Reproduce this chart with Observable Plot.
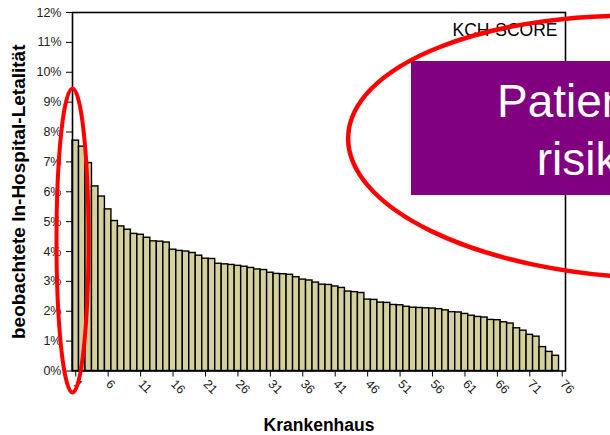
<!DOCTYPE html>
<html>
<head>
<meta charset="utf-8">
<script src="https://cdn.jsdelivr.net/npm/d3@7"></script>
<script src="https://cdn.jsdelivr.net/npm/@observablehq/plot@0.6"></script>
<style>
  body { margin: 0; background: #fff; }
  svg { font-family: "Liberation Sans", Arial, sans-serif; }
</style>
</head>
<body>
<div id="chart"></div>
<script>
// Observed in-hospital mortality (%) per hospital, sorted descending (hospital 76 has no bar)
const rates = [7.71, 7.51, 6.96, 6.18, 5.84, 5.41, 5.02, 4.84, 4.73, 4.59,
  4.56, 4.46, 4.34, 4.33, 4.30, 4.06, 4.02, 4.00, 3.95, 3.86,
  3.76, 3.75, 3.59, 3.57, 3.55, 3.52, 3.49, 3.45, 3.40, 3.38,
  3.29, 3.25, 3.24, 3.22, 3.14, 3.06, 3.03, 2.96, 2.89, 2.88,
  2.83, 2.78, 2.66, 2.64, 2.61, 2.39, 2.38, 2.29, 2.28, 2.21,
  2.20, 2.15, 2.12, 2.11, 2.10, 2.09, 2.07, 2.03, 1.97, 1.96,
  1.91, 1.85, 1.81, 1.79, 1.71, 1.70, 1.63, 1.59, 1.43, 1.35,
  1.21, 1.15, 0.80, 0.64, 0.51];
const hospitalCount = 76;
const xTicks = [1, 6, 11, 16, 21, 26, 31, 36, 41, 46, 51, 56, 61, 66, 71, 76];
const yTicks = [0, 1, 2, 3, 4, 5, 6, 7, 8, 9, 10, 11, 12];
const yLabel = "beobachtete In-Hospital-Letalität";
const xLabel = "Krankenhaus";
const scoreLabel = "KCH-SCORE";
const boxLines = ["Patienten", "risiko"];

const hospitals = Array.from({length: hospitalCount}, (_, i) => i + 1);
const data = rates.map((r, i) => ({hospital: i + 1, rate: r}));

const svg = Plot.plot({
  width: 610,
  height: 435,
  marginLeft: 72,
  marginRight: 45,
  marginTop: 12,
  marginBottom: 64.5,
  style: {fontFamily: '"Liberation Sans", Arial, sans-serif', background: "#fff"},
  x: {type: "band", domain: hospitals, padding: 0},
  y: {domain: [0, 12]},
  marks: [
    Plot.barY(data, {x: "hospital", y: "rate", fill: "#d5d09d", stroke: "#000", strokeWidth: 1.4}),
    Plot.frame({stroke: "#000", strokeWidth: 1.6}),
    Plot.axisY({ticks: yTicks, tickFormat: d => d + "%", tickSize: 6, tickPadding: 5, fontSize: 12.5, fill: "#222", label: null}),
    Plot.axisX({ticks: xTicks, tickRotate: 45, tickSize: 6, tickPadding: 5, fontSize: 12.5, fill: "#222", label: null}),
    Plot.text([yLabel], {frameAnchor: "left", dx: -54, rotate: -90, textAnchor: "middle", lineAnchor: "middle", fontWeight: "bold", fontSize: 19, fill: "#000"}),
    Plot.text([xLabel], {frameAnchor: "bottom", dy: 54.5, textAnchor: "middle", lineAnchor: "middle", fontWeight: "bold", fontSize: 17.5, fill: "#000"}),
    Plot.text([scoreLabel], {frameAnchor: "top-right", dx: -8, dy: 23, textAnchor: "end", lineAnchor: "bottom", fontSize: 17.5, fill: "#000"})
  ]
});

document.getElementById("chart").appendChild(svg);

// Annotations overlaid on the chart
const s = d3.select(svg);
s.append("rect").attr("x", 411).attr("y", 61).attr("width", 260).attr("height", 134).attr("fill", "#800080");
s.append("text").attr("x", 497).attr("y", 116.7).attr("text-anchor", "start").attr("fill", "#fff").attr("font-size", 46).text(boxLines[0]);
s.append("text").attr("x", 536.7).attr("y", 175).attr("text-anchor", "start").attr("fill", "#fff").attr("font-size", 46).text(boxLines[1]);
s.append("ellipse").attr("cx", 72.5).attr("cy", 240.5).attr("rx", 16).attr("ry", 152)
  .attr("fill", "none").attr("stroke", "#f00").attr("stroke-width", 4);
s.append("ellipse").attr("cx", 650).attr("cy", 147).attr("rx", 302).attr("ry", 131)
  .attr("transform", "rotate(2 650 147)")
  .attr("fill", "none").attr("stroke", "#f00").attr("stroke-width", 4.5);
</script>
</body>
</html>
